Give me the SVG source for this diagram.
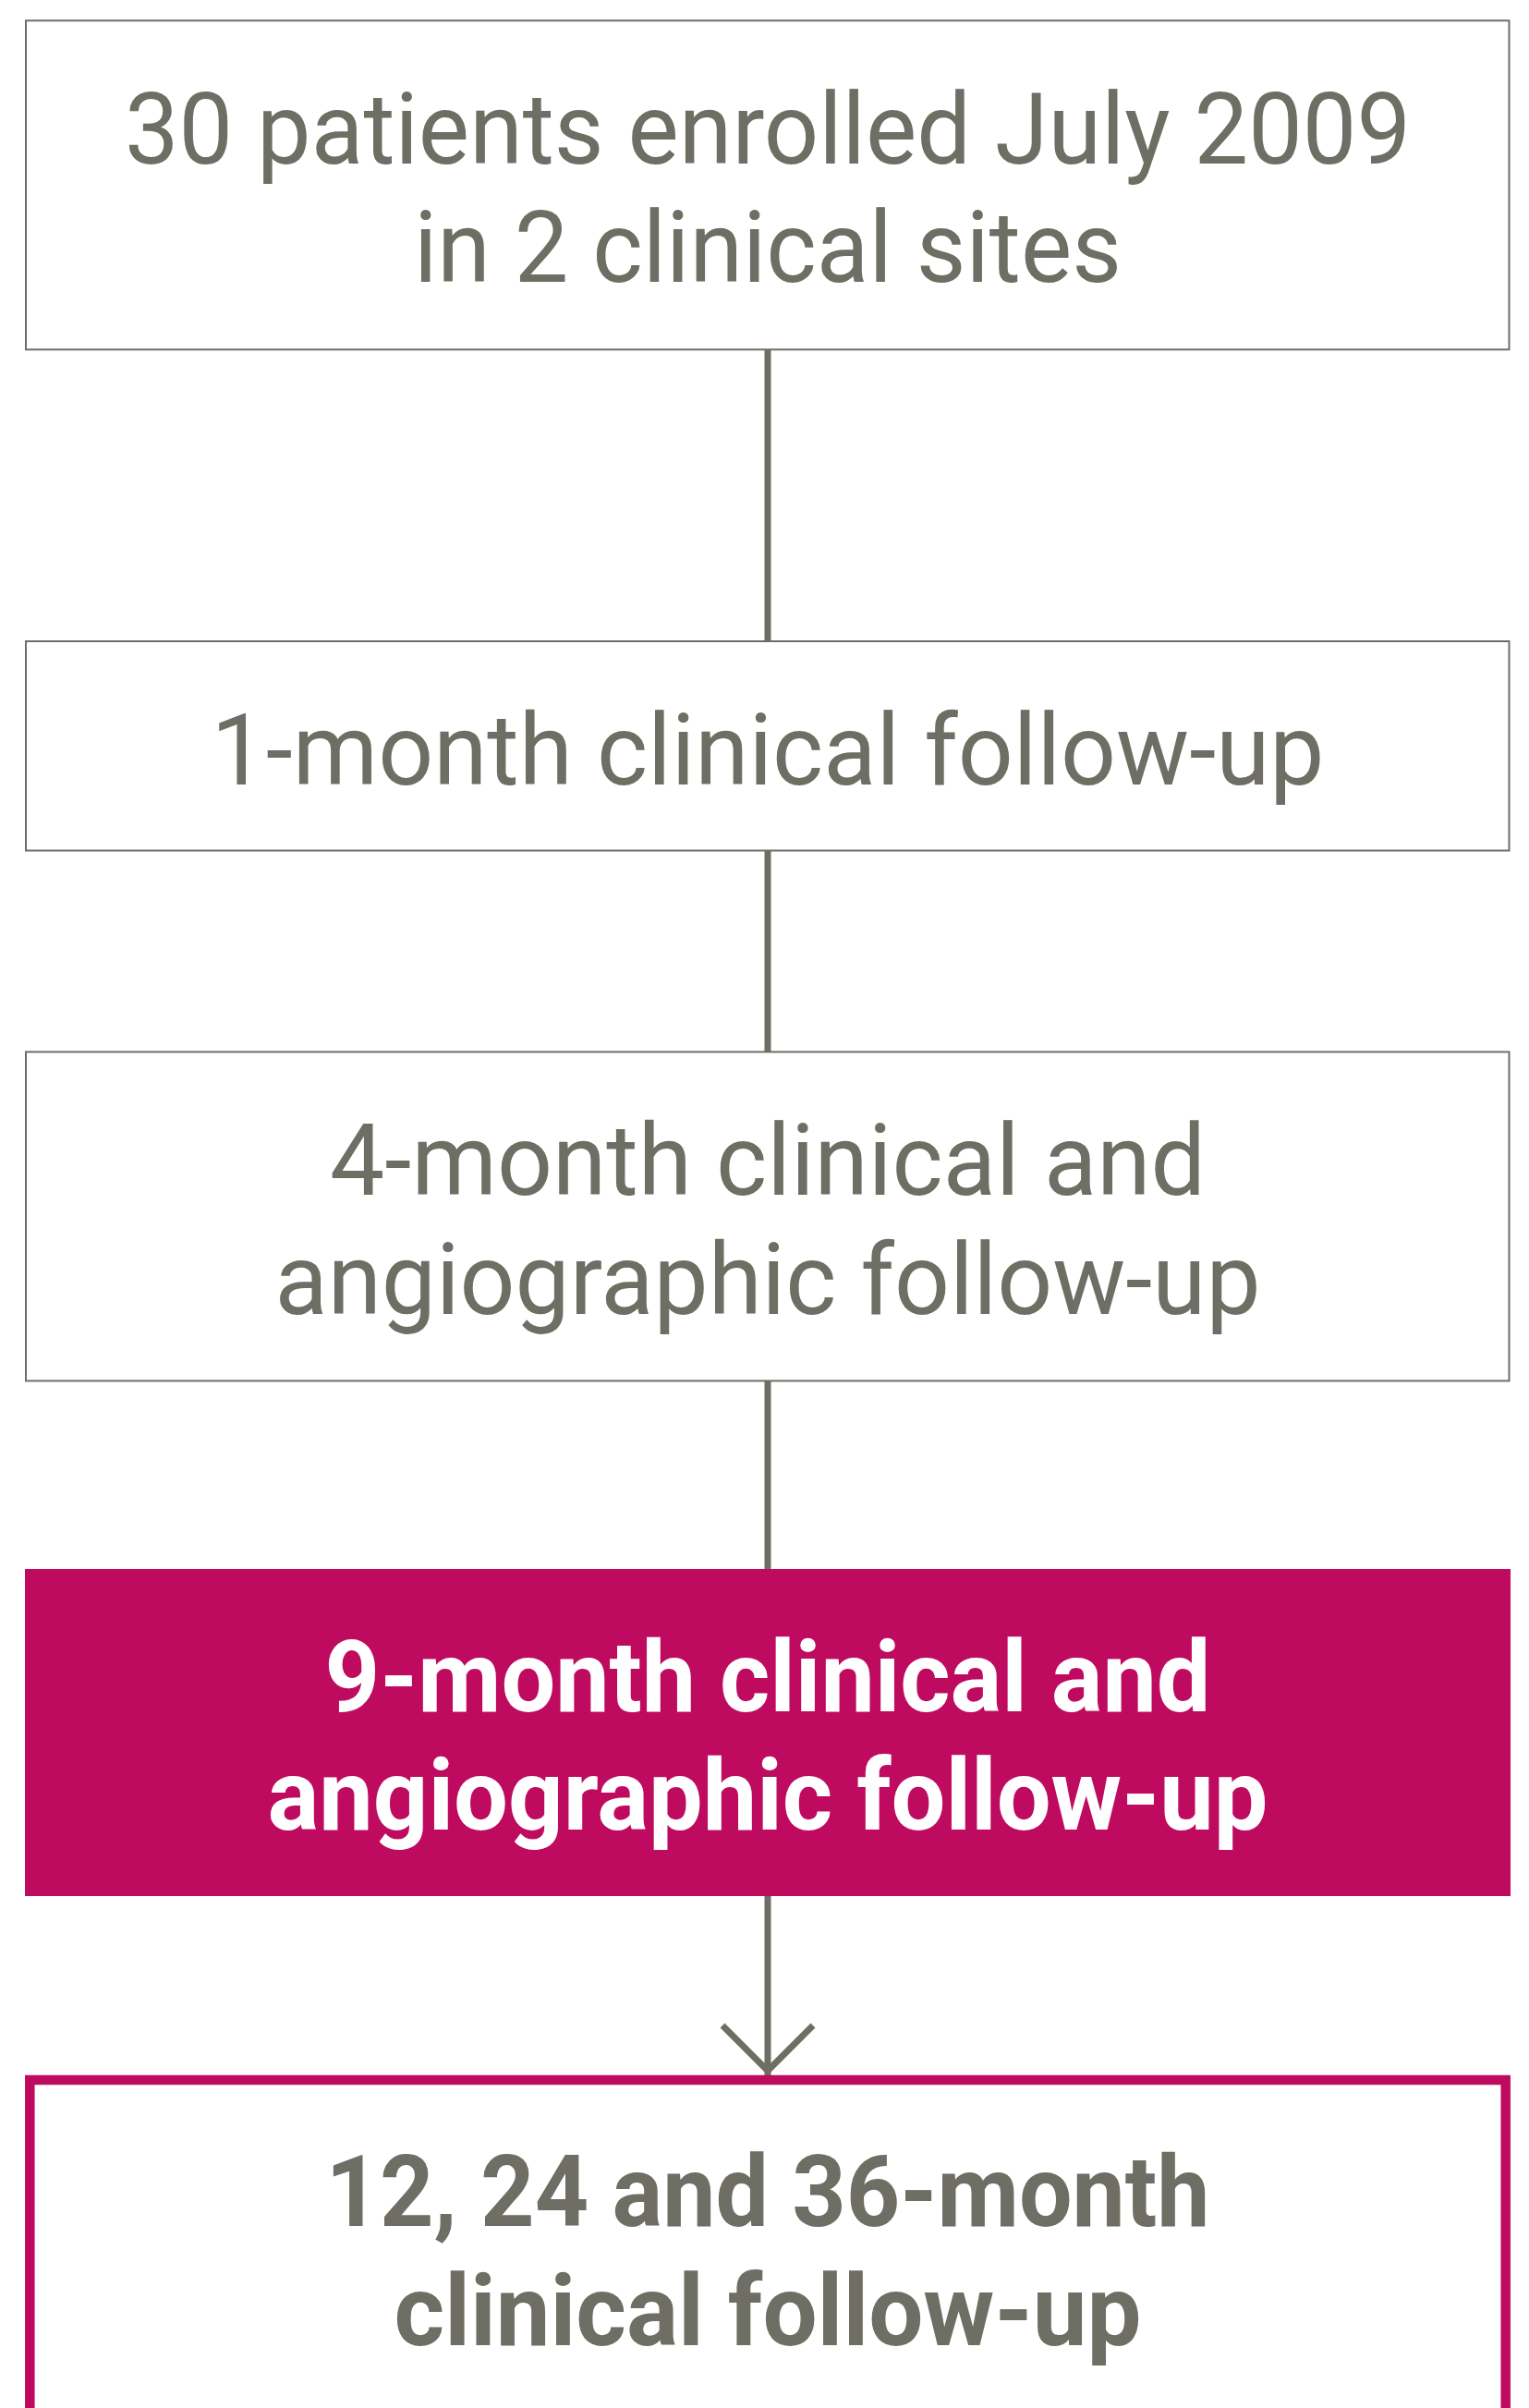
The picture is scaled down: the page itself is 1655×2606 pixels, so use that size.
<svg xmlns="http://www.w3.org/2000/svg" width="1655" height="2606" viewBox="0 0 1655 2606">
<style>
.box{fill:#ffffff;stroke:#6e6e64;stroke-width:2}
.hl{fill:#be0b5f}
.out{fill:#ffffff;stroke:#be0b5f;stroke-width:10.5}
.t{font-family:Roboto,"Liberation Sans",sans-serif;font-size:107px;text-anchor:middle;fill:#6e6e64}
.b{font-weight:bold}
.w{fill:#ffffff}
.c{stroke:#6e6e64;stroke-width:7;fill:none}
</style>
<rect width="1655" height="2606" fill="#ffffff"/>
<g id="connectors">
<line class="c" x1="831" y1="378" x2="831" y2="694"/>
<line class="c" x1="831" y1="921" x2="831" y2="1138"/>
<line class="c" x1="831" y1="1494" x2="831" y2="1698"/>
<line class="c" x1="831" y1="2052" x2="831" y2="2246"/>
<polyline class="c" points="782,2192 831,2241 880,2192"/>
</g>
<g id="node1">
<rect class="box" x="28" y="22.3" width="1605.5" height="356"/>
<text class="t" x="831" y="177" textLength="1392" lengthAdjust="spacingAndGlyphs">30 patients enrolled July 2009</text>
<text class="t" x="831" y="305" textLength="766" lengthAdjust="spacingAndGlyphs">in 2 clinical sites</text>
</g>
<g id="node2">
<rect class="box" x="28" y="694" width="1605.5" height="226.5"/>
<text class="t" x="831" y="849" textLength="1205" lengthAdjust="spacingAndGlyphs">1-month clinical follow-up</text>
</g>
<g id="node3">
<rect class="box" x="28" y="1138.4" width="1605.5" height="356"/>
<text class="t" x="831" y="1293" textLength="948" lengthAdjust="spacingAndGlyphs">4-month clinical and</text>
<text class="t" x="831" y="1422" textLength="1067" lengthAdjust="spacingAndGlyphs">angiographic follow-up</text>
</g>
<g id="node4">
<rect class="hl" x="27" y="1698" width="1608" height="354"/>
<text class="t b w" x="831" y="1852" textLength="959" lengthAdjust="spacingAndGlyphs">9-month clinical and</text>
<text class="t b w" x="831" y="1980" textLength="1083" lengthAdjust="spacingAndGlyphs">angiographic follow-up</text>
</g>
<g id="node5">
<rect class="out" x="32.3" y="2251" width="1597.4" height="420"/>
<text class="t b" x="831" y="2409" textLength="957" lengthAdjust="spacingAndGlyphs">12, 24 and 36-month</text>
<text class="t b" x="831" y="2538" textLength="809" lengthAdjust="spacingAndGlyphs">clinical follow-up</text>
</g>
</svg>
